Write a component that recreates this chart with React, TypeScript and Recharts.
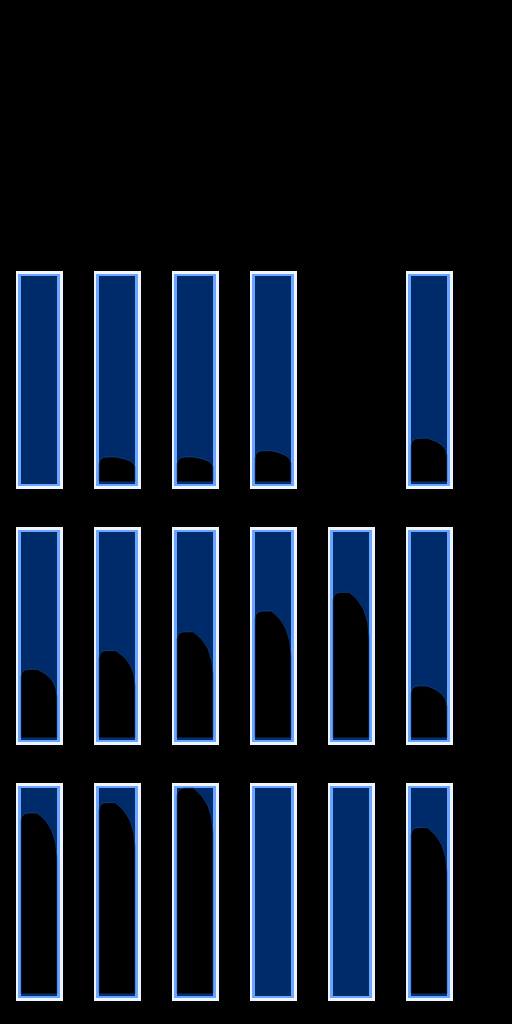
import { BarChart, Bar, XAxis, YAxis } from "recharts";

// fill level of each tube, in % of its height; null = no tube in that slot
const slots = ["1", "2", "3", "4", "5", "6"];
const row1Levels: (number | null)[] = [0, 13, 13, 16, null, 22];
const row2Levels: (number | null)[] = [34, 43, 52, 62, 71, 26];
const row3Levels: (number | null)[] = [88, 93, 100, 0, 0, 81];

const rows = [row1Levels, row2Levels, row3Levels];

function TubeFrame(props: any) {
  const { x, y, width, height, payload } = props;
  if (!payload || payload.level == null) return null;
  return (
    <g>
      <rect x={x} y={y - 5} width={width} height={height + 10} fill="#eef4ff" />
      <rect x={x + 2} y={y - 2} width={width - 5} height={height + 4} fill="#6aa6ff" />
      <rect x={x + 5} y={y} width={width - 11} height={height} fill="#002b6b" />
    </g>
  );
}

function Silhouette(props: any) {
  const { x, y, width, height } = props;
  if (!isFinite(height) || height <= 1) return null;
  const l = x + 5;
  const r = x + width - 6;
  const b = y + height - 2;
  const t = y;
  const h = b - t;
  if (h <= 0) return null;
  const iw = r - l;
  const corner = Math.min(8, h / 2);
  const drop = Math.min(h * 0.4, 45);
  const topEnd = l + iw * 0.45;
  const d = `M${l},${b} L${l},${t + corner} Q${l},${t} ${l + corner},${t} L${topEnd},${t} Q${r},${t + drop * 0.3} ${r},${t + drop} L${r},${b} Z`;
  return <path d={d} fill="#000" stroke="#1d4fa0" strokeWidth={0.6} />;
}

function TubeRow({ levels }: { levels: (number | null)[] }) {
  const data = slots.map((s, i) => ({ slot: s, level: levels[i] }));
  return (
    <BarChart
      width={512}
      height={256}
      data={data}
      margin={{ top: 20, right: 44, bottom: 28, left: 0 }}
      barCategoryGap={0}
    >
      <XAxis dataKey="slot" hide />
      <YAxis domain={[0, 100]} hide />
      <Bar
        dataKey="level"
        barSize={47}
        background={(p: any) => <TubeFrame key={`bg-${p.index}`} {...p} />}
        shape={(p: any) => <Silhouette {...p} />}
        isAnimationActive={false}
      />
    </BarChart>
  );
}

export default function App() {
  return (
    <div
      style={{
        position: "absolute",
        left: 0,
        top: 0,
        width: 512,
        height: 1024,
        background: "#000",
        overflow: "hidden",
      }}
    >
      <div style={{ height: 256 }} />
      {rows.map((levels, i) => (
        <TubeRow key={i} levels={levels} />
      ))}
    </div>
  );
}
